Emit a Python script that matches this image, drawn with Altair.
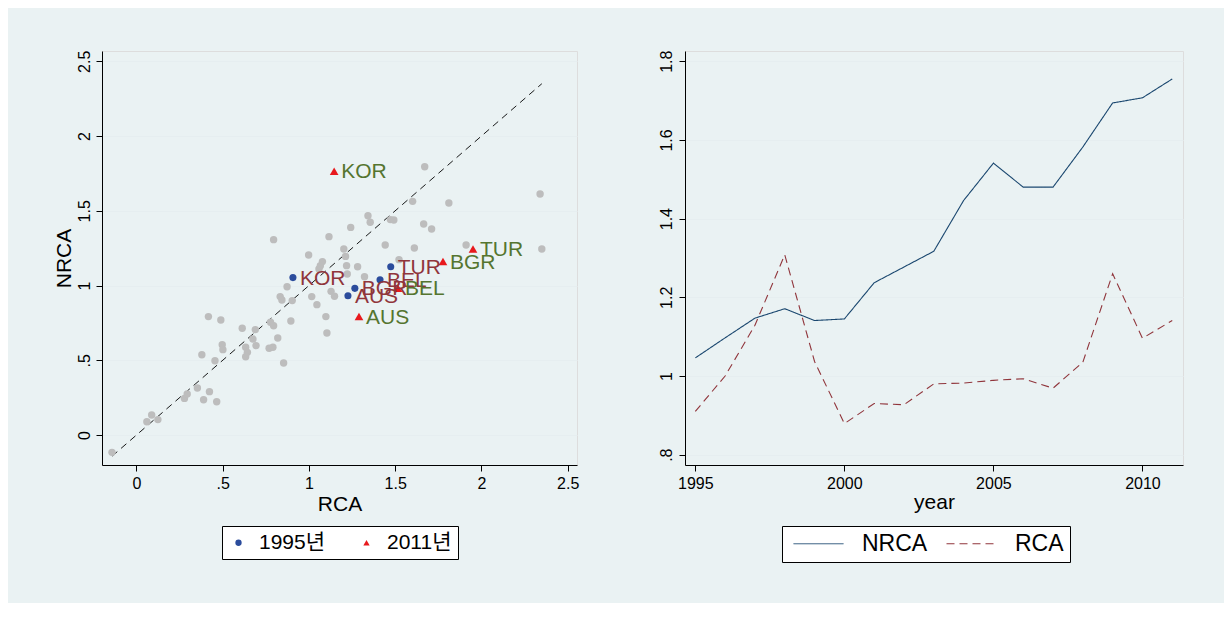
import altair as alt
import pandas as pd

FONT = "'Liberation Sans', Arial, 'Noto Sans CJK KR', sans-serif"

# ---------------- Left panel data ----------------
# all countries (gray background points)
rca_all = [-0.142, 0.060, 0.088, 0.124, 0.278, 0.294, 0.353, 0.379, 0.389, 0.423,
           0.465, 0.417, 0.455, 0.489, 0.497, 0.501, 0.613, 0.633, 0.643, 0.633,
           0.675, 0.693, 0.689, 0.769, 0.791, 0.777, 0.795, 0.819, 0.853, 0.795,
           0.833, 0.843, 0.873, 0.895, 0.903, 0.998, 1.016, 1.046, 1.058, 1.078,
           1.066, 1.098, 1.104, 1.116, 1.128, 1.148, 1.202, 1.212, 1.218, 1.222,
           1.242, 1.282, 1.322, 1.342, 1.355, 1.442, 1.472, 1.492, 1.522, 1.601,
           1.611, 1.665, 1.671, 1.711, 1.811, 1.911, 2.340, 2.350]
nrca_all = [-0.116, 0.089, 0.134, 0.103, 0.245, 0.274, 0.314, 0.537, 0.236, 0.290,
            0.223, 0.792, 0.497, 0.769, 0.604, 0.571, 0.714, 0.587, 0.553, 0.524,
            0.642, 0.598, 0.705, 0.580, 0.587, 0.754, 0.731, 0.649, 0.482, 1.307,
            0.926, 0.903, 0.992, 0.763, 0.899, 1.204, 0.926, 0.872, 1.111, 1.160,
            1.133, 0.792, 0.682, 1.327, 0.961, 0.928, 1.244, 1.195, 1.133, 1.077,
            1.389, 1.126, 1.059, 1.467, 1.423, 1.271, 1.441, 1.438, 1.173, 1.563,
            1.251, 1.412, 1.795, 1.378, 1.552, 1.271, 1.612, 1.244]

countries = ["KOR", "AUS", "BGR", "BEL", "TUR"]
rca_1995 = [0.907, 1.226, 1.266, 1.412, 1.474]
nrca_1995 = [1.053, 0.932, 0.981, 1.039, 1.126]
rca_2011 = [1.146, 1.290, 1.777, 1.516, 1.951]
nrca_2011 = [1.764, 0.792, 1.160, 0.981, 1.244]
year_labels = ["1995년", "2011년"]

# ---------------- Right panel data ----------------
years = list(range(1995, 2012))
nrca_series = [1.046, 1.097, 1.147, 1.171, 1.141, 1.145, 1.237, 1.277, 1.317,
               1.446, 1.541, 1.480, 1.480, 1.582, 1.694, 1.707, 1.755]
rca_series = [0.910, 1.000, 1.129, 1.308, 1.037, 0.879, 0.930, 0.927, 0.980,
              0.982, 0.989, 0.993, 0.969, 1.035, 1.260, 1.096, 1.141]
series_names = ["NRCA", "RCA"]

# ---------------- Frames ----------------
all_df = pd.DataFrame({"RCA": rca_all, "NRCA": nrca_all})
hl_df = pd.DataFrame({
    "RCA": rca_1995 + rca_2011,
    "NRCA": nrca_1995 + nrca_2011,
    "country": countries + countries,
    "yr": [year_labels[0]] * len(countries) + [year_labels[1]] * len(countries),
})
xmin = min(rca_all + rca_1995 + rca_2011)
xmax = max(rca_all + rca_1995 + rca_2011)
diag_df = pd.DataFrame({"RCA": [xmin, xmax], "NRCA": [xmin, xmax]})

ts_df = pd.DataFrame({
    "year": years + years,
    "value": nrca_series + rca_series,
    "series": [series_names[0]] * len(years) + [series_names[1]] * len(years),
})

NAVY = "#1a476f"
MAROON = "#90353b"
GREEN = "#55752f"
BLUE = "#2b4c9c"
RED = "#e8191d"
GRAY = "#bdbdbd"
GRID = "#e6eef0"

common_axis = dict(domainColor="black", tickColor="black", labelColor="black",
                   titleColor="black", labelFontSize=16, titleFontSize=21,
                   titleFontWeight="normal", labelFont=FONT, titleFont=FONT)

# ---------------- Left chart ----------------
xl = alt.X("RCA:Q", scale=alt.Scale(domain=[-0.200, 2.554], nice=False, zero=False),
           axis=alt.Axis(values=[0, 0.5, 1, 1.5, 2, 2.5],
                         labelExpr="datum.value == 0.5 ? '.5' : format(datum.value, '~g')",
                         grid=False, tickSize=6, labelPadding=4, titlePadding=2,
                         title="RCA", **common_axis))
yl = alt.Y("NRCA:Q", scale=alt.Scale(domain=[-0.2007, 2.569], nice=False, zero=False),
           axis=alt.Axis(values=[0, 0.5, 1, 1.5, 2, 2.5],
                         labelExpr="datum.value == 0.5 ? '.5' : format(datum.value, '~g')",
                         grid=True, gridColor=GRID, gridWidth=1, tickSize=6, labelPadding=4,
                         labelAngle=-90, labelAlign="center", labelBaseline="bottom",
                         minExtent=26, maxExtent=26, titlePadding=2,
                         title="NRCA", **common_axis))

diag = alt.Chart(diag_df).mark_line(color="black", strokeDash=[7, 5], strokeWidth=0.9).encode(x=xl, y=yl)
gray = alt.Chart(all_df).mark_point(filled=True, shape="circle", size=55, color=GRAY, opacity=1).encode(x=xl, y=yl)

left_legend = alt.Legend(title=None, orient="none", legendX=120, legendY=475,
                         direction="horizontal", symbolSize=40, labelFontSize=21,
                         labelFont=FONT, labelColor="black", strokeColor="black",
                         fillColor="white", padding=6, columnPadding=30, labelOffset=10,
                         symbolStrokeWidth=0)
hl = alt.Chart(hl_df).mark_point(filled=True, opacity=1).encode(
    x=xl, y=yl,
    color=alt.Color("yr:N", scale=alt.Scale(domain=year_labels, range=[BLUE, RED]), legend=left_legend),
    shape=alt.Shape("yr:N", scale=alt.Scale(domain=year_labels, range=["circle", "triangle-up"]), legend=left_legend),
    size=alt.Size("yr:N", scale=alt.Scale(domain=year_labels, range=[50, 75]), legend=None),
)
lab95 = alt.Chart(hl_df).transform_filter(alt.datum.yr == year_labels[0]).mark_text(
    align="left", baseline="middle", dx=7, dy=1, fontSize=21, font=FONT, color=MAROON
).encode(x=xl, y=yl, text="country:N")
lab11 = alt.Chart(hl_df).transform_filter(alt.datum.yr == year_labels[1]).mark_text(
    align="left", baseline="middle", dx=7, dy=1, fontSize=21, font=FONT, color=GREEN
).encode(x=xl, y=yl, text="country:N")

left = alt.layer(diag, gray, hl, lab95, lab11).properties(width=475, height=414)

# ---------------- Right chart ----------------
xr = alt.X("year:Q", scale=alt.Scale(domain=[1994.654, 2011.36], nice=False, zero=False),
           axis=alt.Axis(values=[1995, 2000, 2005, 2010], format="d", grid=False,
                         tickSize=6, labelPadding=4, titlePadding=0, title="year", **common_axis))
yr_ = alt.Y("value:Q", scale=alt.Scale(domain=[0.7738, 1.826], nice=False, zero=False),
            axis=alt.Axis(values=[0.8, 1, 1.2, 1.4, 1.6, 1.8],
                          labelExpr="datum.value == 0.8 ? '.8' : format(datum.value, '~g')",
                          grid=True, gridColor=GRID, gridWidth=1, tickSize=6, labelPadding=5,
                          labelAngle=-90, labelAlign="center", labelBaseline="bottom",
                          minExtent=27, maxExtent=27, title=None, **common_axis))
right_legend = alt.Legend(title=None, orient="none", legendX=97, legendY=475,
                          direction="horizontal", symbolType="M-1.2,0H8.8", symbolSize=100,
                          symbolStrokeWidth=1, labelFontSize=23, labelFont=FONT,
                          labelColor="black", strokeColor="black", fillColor="white",
                          padding=6, columnPadding=13, labelOffset=51)
lines = alt.Chart(ts_df).mark_line(strokeWidth=1.1).encode(
    x=xr, y=yr_,
    color=alt.Color("series:N", scale=alt.Scale(domain=series_names, range=[NAVY, MAROON]), legend=right_legend),
    strokeDash=alt.StrokeDash("series:N", scale=alt.Scale(domain=series_names, range=[[1, 0], [8, 5]]), legend=right_legend),
    order="year:Q",
)
right = lines.properties(width=498, height=414)

chart = alt.hconcat(left, right, spacing=77).resolve_scale(
    color="independent", shape="independent", strokeDash="independent"
).resolve_legend(color="independent", shape="independent", strokeDash="independent").properties(
    padding={"left": 44, "top": 41, "right": 40, "bottom": 40},
    background="#eaf2f3",
).configure_view(fill="white", stroke=None).configure(font=FONT)

chart.save("out.html", embed_options={"renderer": "svg", "actions": False})
